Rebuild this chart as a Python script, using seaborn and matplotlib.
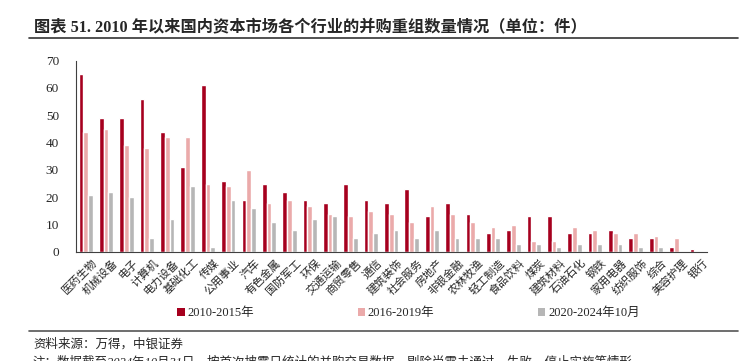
import matplotlib
matplotlib.use("Agg")
import seaborn as sns
import pandas as pd
import matplotlib.pyplot as plt
import matplotlib.transforms as mtransforms
from matplotlib.ticker import FixedLocator
from matplotlib.patches import Patch

industries = ["医药生物", "机械设备", "电子", "计算机", "电力设备", "基础化工", "传媒",
              "公用事业", "汽车", "有色金属", "国防军工", "环保", "交通运输", "商贸零售",
              "通信", "建筑装饰", "社会服务", "房地产", "非银金融", "农林牧渔", "轻工制造",
              "食品饮料", "煤炭", "建筑材料", "石油石化", "钢铁", "家用电器", "纺织服饰",
              "综合", "美容护理", "银行"]
periods = ["2010-2015年", "2016-2019年", "2020-2024年10月"]
v_2010_2015 = [65, 49, 49, 56, 44, 31, 61, 26, 19, 25, 22, 19, 18, 25, 19, 18, 23,
               13, 18, 14, 7, 8, 13, 13, 7, 7, 8, 5, 5, 2, 1]
v_2016_2019 = [44, 45, 39, 38, 42, 42, 25, 24, 30, 18, 19, 17, 14, 13, 15, 14, 11,
               17, 14, 11, 9, 10, 4, 4, 9, 8, 7, 7, 6, 5, 0]
v_2020_2024 = [21, 22, 20, 5, 12, 24, 2, 19, 16, 11, 8, 12, 13, 5, 7, 8, 5,
               8, 5, 5, 5, 3, 3, 2, 3, 3, 3, 2, 2, 0, 0]
colors = ["#A6001E", "#EBAAAA", "#B6B6B6"]

df = pd.DataFrame({
    "industry": industries * 3,
    "period": [periods[0]] * 31 + [periods[1]] * 31 + [periods[2]] * 31,
    "count": v_2010_2015 + v_2016_2019 + v_2020_2024,
})

sns.set_style("white")
plt.rcParams["font.family"] = ["Liberation Serif", "Noto Sans CJK SC"]

fig = plt.figure(figsize=(7.48, 3.61), dpi=100)
ax = fig.add_axes([0.101, 0.302, 0.844, 0.530])

sns.barplot(data=df, x="industry", y="count", hue="period", palette=colors,
            width=0.7, saturation=1, ax=ax, legend=False)

ax.set_xlim(-0.5, len(industries) - 0.5)
ax.set_ylim(0, 70)
ax.set_yticks(range(0, 71, 10))
ax.set_xlabel("")
ax.set_ylabel("")
for s in ["top", "right"]:
    ax.spines[s].set_visible(False)
for s in ["left", "bottom"]:
    ax.spines[s].set_color("#404040")
    ax.spines[s].set_linewidth(0.8)

ax.tick_params(axis="y", direction="out", length=4, width=0.8, color="#404040",
               labelsize=9.5, pad=8)
ax.tick_params(axis="x", which="major", length=0, pad=4)
ax.xaxis.set_minor_locator(FixedLocator([i + 0.5 for i in range(len(industries))]))
ax.tick_params(axis="x", which="minor", direction="out", length=3, width=0.8,
               color="#404040")
ax.set_xticks(range(len(industries)))
ax.set_xticklabels(industries, rotation=45, ha="right", rotation_mode="anchor",
                   fontsize=8)
shift = mtransforms.ScaledTranslation(6 / 100, 0, fig.dpi_scale_trans)
for lab in ax.get_xticklabels():
    lab.set_transform(lab.get_transform() + shift)

fig.text(0.045, 0.925, "图表 51. 2010 年以来国内资本市场各个行业的并购重组数量情况（单位：件）",
         fontsize=11.7, fontweight="bold", va="center", ha="left")
fig.add_artist(plt.Line2D([0.039, 0.987], [0.895, 0.895], color="#333333", lw=1.2))

handles = [Patch(facecolor=c, edgecolor="none") for c in colors]
fig.legend(handles, periods, loc="center", bbox_to_anchor=(0.546, 0.133), ncol=3,
           frameon=False, fontsize=9, handlelength=0.6, handleheight=0.6,
           handletextpad=0.2, columnspacing=8.3)

fig.add_artist(plt.Line2D([0.039, 0.987], [0.083, 0.083], color="#555555", lw=1.2))
fig.text(0.044, 0.045, "资料来源：万得，中银证券", fontsize=9, va="center", ha="left",
         style="italic")
fig.text(0.044, -0.004, "注：数据截至2024年10月31日，按首次披露日统计的并购交易数据，剔除尚需未通过、失败、停止实施等情形",
         fontsize=9, va="center", ha="left", style="italic")

fig.savefig("out.png", dpi=100)
